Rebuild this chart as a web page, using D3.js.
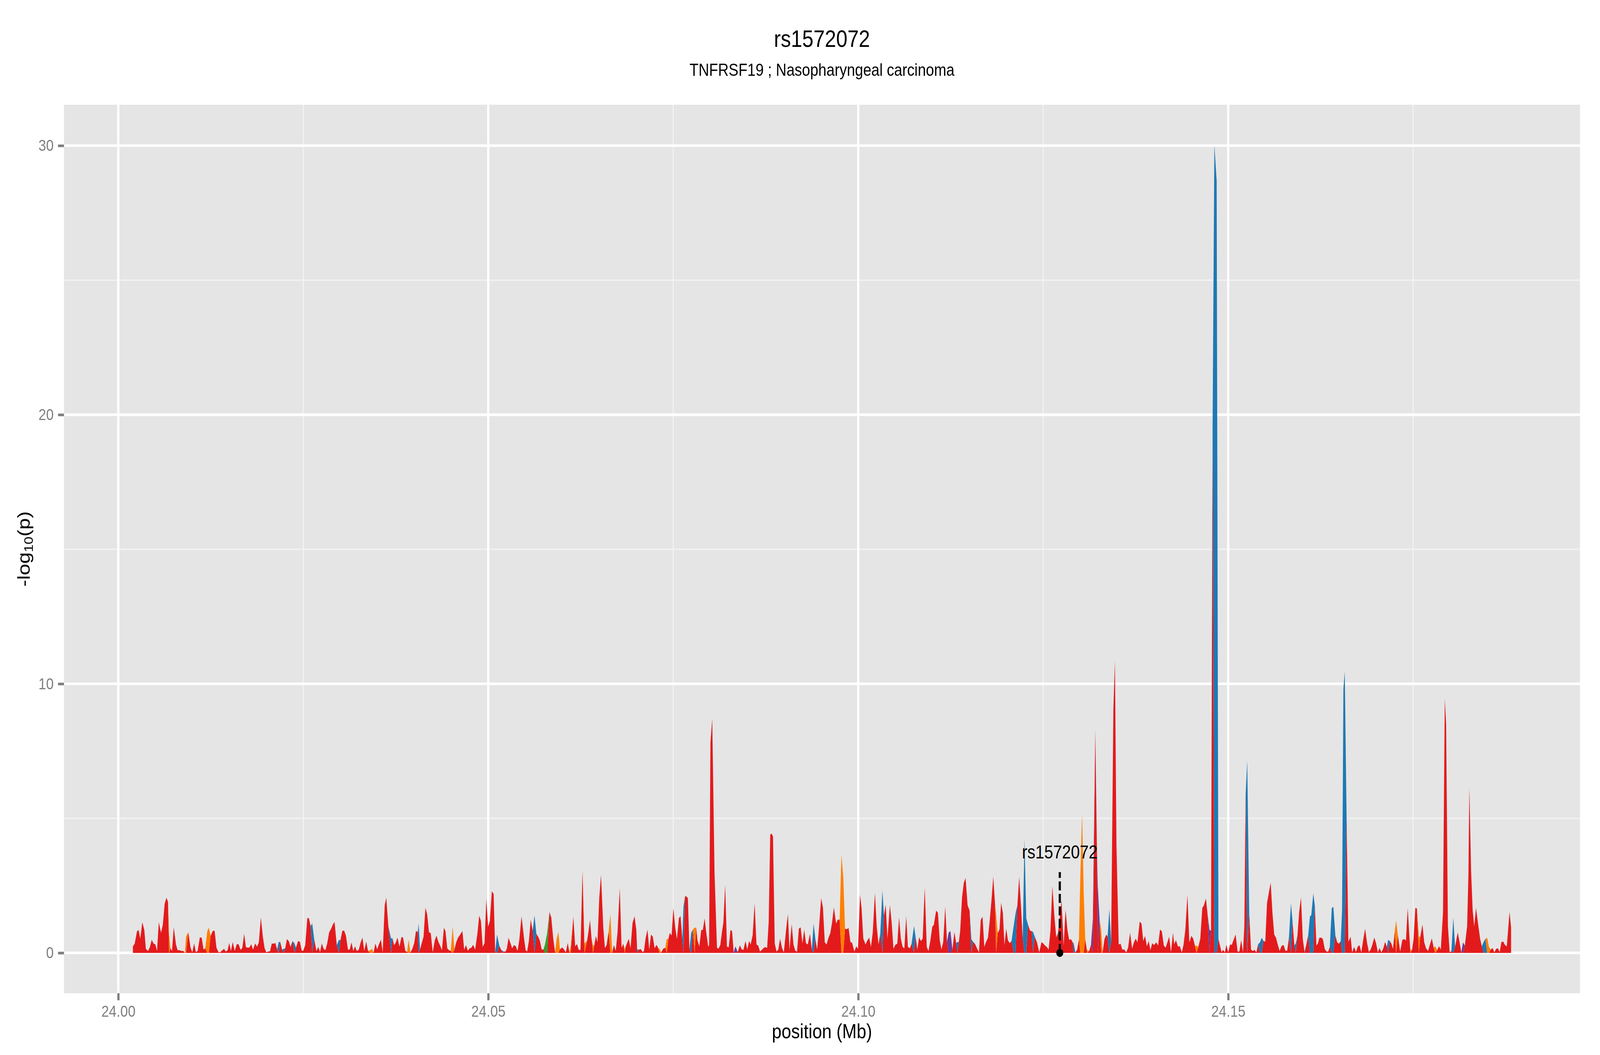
<!DOCTYPE html>
<html><head><meta charset="utf-8">
<script src="https://cdn.jsdelivr.net/npm/d3@7"></script>
<style>html,body{margin:0;padding:0;background:#fff;overflow:hidden}
#chart{position:fixed;left:0;top:0;width:100vw;height:100vh;display:block}</style>
</head><body>
<svg id="chart" viewBox="0 0 4800 2700" preserveAspectRatio="none"></svg>
<script>
// ---------------- DATA ----------------
const titleText = "rs1572072";
const subtitleText = "TNFRSF19 ; Nasopharyngeal carcinoma";
const xAxisTitle = "position (Mb)";
const xTicks = [24.00, 24.05, 24.10, 24.15];
const xTickLabels = ["24.00", "24.05", "24.10", "24.15"];
const xMinorTicks = [24.025, 24.075, 24.125, 24.175];
const yTicks = [0, 10, 20, 30];
const yTickLabels = ["0", "10", "20", "30"];
const yMinorTicks = [5, 15, 25];

// lead SNP
const leadName = "rs1572072";
const leadPos = 24.12724;
const leadLogp = 0;
const leadLineTop = 3.0;
const leadLabelY = 3.75;

// SNP positions (Mb) and -log10(p), four consecutive stretches
const posA = [24.00198,24.00222,24.00253,24.00274,24.00298,24.00325,24.00352,24.00373,24.00403,24.00428,
24.00452,24.00479,24.00500,24.00524,24.00548,24.00578,24.00602,24.00627,24.00651,24.00672,
24.00687,24.00705,24.00726,24.00750,24.00780,24.00802,24.00826,24.00856,24.00880,24.00901,
24.00916,24.00946,24.00977,24.01001,24.01025,24.01049,24.01073,24.01103,24.01128,24.01152,
24.01176,24.01203,24.01224,24.01248,24.01278,24.01302,24.01327,24.01357,24.01375,24.01399,
24.01429,24.01453,24.01478,24.01499,24.01523,24.01547,24.01574,24.01601,24.01626,24.01653,
24.01677,24.01701,24.01725,24.01749,24.01773,24.01797,24.01821,24.01851,24.01875,24.01900,
24.01927,24.01954,24.01978,24.02002,24.02026,24.02051,24.02075,24.02099,24.02123,24.02147,
24.02168,24.02189,24.02214,24.02238,24.02256,24.02280,24.02304,24.02328,24.02355,24.02380,
24.02401,24.02431,24.02455,24.02479,24.02500,24.02527,24.02555,24.02576,24.02600,24.02621,
24.02648,24.02678,24.02703,24.02727,24.02751,24.02775,24.02799,24.02823,24.02850,24.02877,
24.02901,24.02923,24.02953,24.02983,24.03004,24.03028,24.03052,24.03076,24.03104,24.03128,
24.03152,24.03176,24.03200,24.03224,24.03251,24.03276,24.03300,24.03324,24.03351,24.03375,
24.03405,24.03429,24.03451,24.03475,24.03499,24.03523,24.03550,24.03574,24.03601,24.03622,
24.03650,24.03686,24.03707,24.03728,24.03752,24.03773,24.03800,24.03828,24.03849,24.03879,
24.03903,24.03924,24.03948,24.03975,24.04000,24.04024,24.04048,24.04060,24.04078,24.04099,
24.04126,24.04151,24.04175,24.04199,24.04223,24.04250,24.04277,24.04301,24.04325,24.04350,
24.04374,24.04401,24.04422,24.04446,24.04470,24.04494,24.04519,24.04543,24.04567,24.04591,
24.04621,24.04651,24.04675,24.04700,24.04724,24.04748,24.04772,24.04796,24.04823,24.04853,
24.04878];
const logpA = [0.24,0.34,0.80,0.85,0.53,1.14,0.85,0.15,0.07,0.22,
0.48,0.34,0.32,0.07,1.14,0.75,1.04,1.82,2.05,1.90,
0.70,0.17,0.07,0.95,0.31,0.10,0.10,0.07,0.07,0.00,
0.60,0.77,0.19,0.02,0.35,0.03,0.07,0.58,0.56,0.12,
0.17,0.80,0.94,0.63,0.82,0.82,0.19,0.02,0.02,0.08,
0.15,0.05,0.10,0.37,0.07,0.40,0.07,0.32,0.32,0.11,
0.19,0.71,0.22,0.19,0.20,0.32,0.12,0.35,0.23,0.39,
1.32,0.60,0.17,0.02,0.05,0.06,0.35,0.34,0.37,0.12,
0.40,0.41,0.12,0.15,0.17,0.51,0.44,0.22,0.44,0.36,
0.19,0.44,0.41,0.08,0.08,0.29,1.29,1.29,0.99,1.10,
0.51,0.07,0.22,0.03,0.35,0.15,0.10,0.34,0.76,0.90,
1.06,1.15,0.29,0.48,0.48,0.82,0.83,0.65,0.12,0.12,
0.39,0.07,0.24,0.07,0.12,0.39,0.57,0.07,0.42,0.07,
0.10,0.15,0.02,0.35,0.13,0.32,0.49,0.02,1.77,2.05,
0.99,0.54,0.54,0.28,0.39,0.57,0.23,0.59,0.57,0.08,
0.03,0.49,0.02,0.15,0.37,0.82,0.77,1.09,0.12,0.34,
0.60,1.68,1.43,0.77,0.73,0.02,0.46,0.64,0.42,0.27,
0.10,0.93,0.81,0.17,0.10,0.07,0.98,0.12,0.39,0.56,
0.68,0.81,0.11,0.29,0.08,0.17,0.19,0.30,0.12,0.70,
1.38];

const posB = [24.04901,24.04925,24.04950,24.04974,24.04998,24.05022,24.05049,24.05073,24.05094,24.05119,
24.05149,24.05173,24.05191,24.05209,24.05233,24.05251,24.05275,24.05300,24.05324,24.05348,
24.05372,24.05396,24.05420,24.05450,24.05481,24.05505,24.05526,24.05550,24.05574,24.05601,
24.05625,24.05650,24.05674,24.05698,24.05722,24.05746,24.05767,24.05797,24.05828,24.05852,
24.05879,24.05903,24.05924,24.05948,24.05969,24.06000,24.06024,24.06048,24.06075,24.06096,
24.06114,24.06150,24.06175,24.06199,24.06223,24.06247,24.06274,24.06301,24.06337,24.06355,
24.06376,24.06395,24.06416,24.06434,24.06455,24.06476,24.06500,24.06524,24.06555,24.06576,
24.06600,24.06627,24.06651,24.06675,24.06699,24.06723,24.06747,24.06778,24.06802,24.06826,
24.06844,24.06862,24.06899,24.06923,24.06950,24.06977,24.07001,24.07013,24.07037,24.07061,
24.07086,24.07104,24.07128,24.07152,24.07176,24.07200,24.07224,24.07249,24.07273,24.07297,
24.07315,24.07339,24.07363,24.07393,24.07412,24.07436,24.07454,24.07478,24.07502,24.07526,
24.07550,24.07577,24.07599,24.07623,24.07638,24.07659,24.07677,24.07698,24.07719,24.07743,
24.07767,24.07789,24.07810,24.07828,24.07852,24.07879,24.07900,24.07924,24.07949,24.07973,
24.07985,24.08003,24.08027,24.08058,24.08091,24.08111,24.08136,24.08160,24.08178,24.08202,
24.08226,24.08250,24.08274,24.08295,24.08317,24.08341,24.08371,24.08401,24.08425,24.08449,
24.08476,24.08501,24.08525,24.08546,24.08573,24.08600,24.08625,24.08649,24.08673,24.08697,
24.08721,24.08745,24.08769,24.08790,24.08811,24.08829,24.08848,24.08872,24.08896,24.08920,
24.08944,24.08971,24.08995,24.09023,24.09050,24.09071,24.09101,24.09125,24.09149,24.09173,
24.09198,24.09222,24.09246,24.09270,24.09294,24.09318,24.09348,24.09373,24.09397,24.09421,
24.09445,24.09469,24.09499,24.09523,24.09548,24.09572];
const logpB = [1.19,0.22,0.36,2.00,0.97,1.19,2.29,2.19,0.02,0.68,
0.27,0.12,0.08,0.05,0.05,0.15,0.56,0.36,0.17,0.29,
0.25,0.07,0.48,1.36,0.60,0.10,0.05,0.46,1.23,0.82,
1.39,0.71,0.60,0.45,0.13,0.12,0.31,0.75,1.52,1.31,
0.51,0.02,0.51,0.78,0.13,0.20,0.13,0.02,0.37,0.02,
0.22,1.34,0.24,0.33,0.11,0.11,3.06,0.35,0.46,0.80,
1.22,0.56,0.27,0.29,0.63,0.39,2.03,2.90,0.94,0.18,
0.29,0.80,1.43,0.02,0.29,0.07,0.75,2.40,0.19,0.34,
0.15,0.27,0.52,0.17,1.11,1.36,0.85,0.12,0.12,0.14,
0.03,0.07,0.56,0.86,0.12,0.68,0.60,0.17,0.30,0.18,
0.15,0.02,0.15,0.19,0.51,0.53,0.74,0.65,1.66,0.97,
0.51,1.29,1.37,0.51,1.70,2.10,2.10,2.03,0.12,0.75,
0.87,0.94,0.94,0.46,0.24,0.85,0.85,1.28,0.70,0.22,
0.30,7.80,8.70,3.00,0.19,0.15,0.29,0.80,1.14,2.53,
0.23,0.21,0.85,0.81,0.02,0.24,0.03,0.28,0.13,0.11,
0.44,0.13,0.44,0.31,0.65,1.84,0.31,0.27,0.05,0.11,
0.18,0.22,0.18,1.13,4.40,4.43,4.33,0.34,0.05,0.12,
0.53,0.17,0.02,0.80,1.44,0.10,1.07,0.31,0.08,0.05,
0.90,0.95,0.35,0.86,0.36,0.31,0.71,0.12,1.09,0.51,
0.12,0.90,2.03,1.69,0.39,0.31];

const posC = [24.09598,24.09623,24.09647,24.09671,24.09701,24.09725,24.09749,24.09773,24.09798,24.09822,
24.09846,24.09870,24.09894,24.09918,24.09948,24.09973,24.09997,24.10024,24.10045,24.10069,
24.10099,24.10123,24.10148,24.10172,24.10196,24.10226,24.10250,24.10274,24.10298,24.10327,
24.10348,24.10371,24.10395,24.10428,24.10452,24.10476,24.10504,24.10528,24.10552,24.10576,
24.10600,24.10624,24.10648,24.10672,24.10697,24.10721,24.10754,24.10775,24.10799,24.10823,
24.10847,24.10871,24.10899,24.10926,24.10950,24.10974,24.11001,24.11022,24.11053,24.11077,
24.11101,24.11125,24.11149,24.11176,24.11200,24.11222,24.11246,24.11273,24.11300,24.11324,
24.11342,24.11360,24.11378,24.11403,24.11427,24.11451,24.11478,24.11505,24.11529,24.11553,
24.11577,24.11608,24.11632,24.11656,24.11680,24.11704,24.11728,24.11753,24.11777,24.11801,
24.11825,24.11849,24.11864,24.11885,24.11909,24.11931,24.11955,24.11976,24.12000,24.12024,
24.12048,24.12072,24.12103,24.12127,24.12151,24.12175,24.12199,24.12223,24.12247,24.12271,
24.12296,24.12323,24.12344,24.12362,24.12386,24.12416,24.12446,24.12477,24.12501,24.12525,
24.12549,24.12573,24.12597,24.12624,24.12652,24.12676,24.12700,24.12748,24.12776,24.12802,
24.12827,24.12851,24.12875,24.12899,24.12911,24.12935,24.12959,24.12983,24.13001,24.13025,
24.13047,24.13068,24.13093,24.13122,24.13146,24.13171,24.13204,24.13225,24.13237,24.13261,
24.13285,24.13303,24.13328,24.13352,24.13370,24.13394,24.13418,24.13448,24.13469,24.13490,
24.13520,24.13545,24.13569,24.13593,24.13623,24.13647,24.13674,24.13702,24.13726,24.13750,
24.13774,24.13804,24.13828,24.13852,24.13877,24.13901,24.13925,24.13949,24.13973,24.13997,
24.14027,24.14052,24.14079,24.14103,24.14130,24.14154,24.14178,24.14202,24.14227,24.14254];
const logpC = [0.56,0.73,1.14,1.69,1.09,1.24,1.23,3.65,2.80,0.90,
0.88,0.92,0.41,0.37,0.05,0.24,0.15,2.16,1.67,0.53,
0.31,0.46,0.57,0.22,0.75,2.23,0.99,0.31,0.70,2.32,
1.38,1.79,0.53,1.77,1.14,0.15,0.31,0.34,1.32,0.53,
0.22,0.17,1.36,0.22,0.17,0.34,1.00,0.60,0.12,0.58,
0.44,0.53,2.43,0.22,0.07,0.44,0.97,1.04,1.57,1.49,
0.48,0.12,0.41,1.72,0.41,0.75,0.81,0.12,0.77,0.36,
0.40,0.41,0.82,2.06,2.61,2.78,1.77,1.57,0.51,0.41,
0.34,0.15,0.02,1.23,1.34,0.22,0.41,0.56,1.19,1.96,
2.83,1.81,1.43,0.73,0.87,1.86,1.48,0.29,0.90,0.46,
0.36,0.44,1.04,1.48,1.77,2.82,1.77,0.51,4.24,1.28,
1.04,0.82,0.81,0.78,0.60,0.39,0.02,0.40,0.35,0.27,
0.22,0.12,0.80,2.48,1.33,0.58,0.73,1.96,0.27,1.60,
0.85,0.48,0.51,0.39,0.36,0.02,0.12,0.51,2.74,5.20,
2.25,0.51,0.10,0.07,0.31,1.28,8.30,4.00,2.50,1.28,
0.80,0.02,0.51,0.68,0.60,1.62,0.41,9.00,10.87,4.00,
0.31,0.34,0.12,0.13,0.02,0.19,0.75,0.15,0.39,0.53,
0.39,1.16,1.09,0.44,0.63,0.24,0.44,0.10,0.36,0.29,
0.39,0.27,0.87,0.80,0.27,0.19,0.39,0.60,0.02,0.75];

const posD = [24.14270,24.14294,24.14322,24.14346,24.14373,24.14397,24.14421,24.14449,24.14475,24.14503,
24.14527,24.14551,24.14572,24.14596,24.14623,24.14650,24.14672,24.14699,24.14723,24.14747,
24.14768,24.14789,24.14813,24.14844,24.14868,24.14910,24.14931,24.14955,24.14976,24.15000,
24.15025,24.15049,24.15076,24.15100,24.15127,24.15151,24.15175,24.15200,24.15218,24.15236,
24.15257,24.15284,24.15308,24.15332,24.15356,24.15381,24.15405,24.15429,24.15453,24.15477,
24.15501,24.15525,24.15549,24.15574,24.15598,24.15622,24.15646,24.15670,24.15694,24.15725,
24.15749,24.15773,24.15797,24.15821,24.15848,24.15869,24.15894,24.15915,24.15936,24.15960,
24.15984,24.16008,24.16032,24.16056,24.16081,24.16105,24.16123,24.16150,24.16171,24.16192,
24.16214,24.16232,24.16256,24.16280,24.16304,24.16328,24.16352,24.16373,24.16400,24.16421,
24.16448,24.16473,24.16497,24.16521,24.16539,24.16557,24.16575,24.16600,24.16624,24.16654,
24.16675,24.16702,24.16726,24.16750,24.16774,24.16799,24.16823,24.16850,24.16877,24.16901,
24.16925,24.16949,24.16974,24.16998,24.17022,24.17046,24.17070,24.17094,24.17121,24.17145,
24.17161,24.17185,24.17206,24.17227,24.17251,24.17269,24.17293,24.17324,24.17354,24.17378,
24.17402,24.17426,24.17450,24.17462,24.17486,24.17505,24.17529,24.17550,24.17577,24.17595,
24.17625,24.17649,24.17674,24.17701,24.17725,24.17752,24.17777,24.17798,24.17825,24.17849,
24.17873,24.17903,24.17927,24.17945,24.17969,24.17993,24.18017,24.18042,24.18066,24.18102,
24.18126,24.18150,24.18174,24.18198,24.18229,24.18247,24.18259,24.18283,24.18304,24.18325,
24.18349,24.18379,24.18404,24.18428,24.18452,24.18476,24.18500,24.18524,24.18548,24.18573,
24.18597,24.18621,24.18645,24.18669,24.18693,24.18717,24.18741,24.18765,24.18802,24.18823];
const logpD = [0.32,0.47,0.23,0.25,0.02,0.31,0.87,2.15,0.39,0.63,
0.53,0.26,0.27,0.22,0.53,1.67,1.77,2.02,1.38,0.86,
0.82,19.50,30.02,28.70,0.51,0.03,0.11,0.02,0.30,0.02,
0.31,0.30,0.51,0.68,0.05,0.05,0.47,0.02,1.00,5.90,
7.15,1.50,0.12,0.07,0.11,0.02,0.32,0.39,0.56,0.44,
0.42,1.86,2.23,2.61,1.48,0.68,0.56,0.31,0.07,0.27,
0.29,0.08,0.08,0.56,1.84,1.18,0.27,0.36,0.65,1.55,
2.06,0.51,0.05,0.31,0.65,1.36,1.40,2.21,1.74,0.27,
0.36,0.56,0.57,0.51,0.15,0.05,0.05,0.22,1.67,1.71,
0.65,0.39,0.34,0.44,1.60,9.80,10.45,5.00,0.41,0.60,
0.02,0.22,0.03,0.23,0.29,0.02,0.46,0.90,0.36,0.03,
0.12,0.31,0.57,0.36,0.02,0.18,0.02,0.15,0.41,0.22,
0.48,0.44,0.34,0.15,0.80,1.20,0.65,0.05,0.49,0.51,
0.46,1.66,0.56,0.10,0.12,0.51,1.67,1.65,0.61,0.58,
1.05,0.39,0.17,0.07,0.30,0.54,0.19,0.25,0.10,0.25,
0.12,1.50,9.45,8.50,1.00,0.02,0.07,1.31,0.22,0.76,
0.41,0.02,0.39,0.27,0.99,3.00,6.15,3.00,1.57,0.99,
1.67,1.04,0.53,0.24,0.41,0.52,0.56,0.22,0.12,0.18,
0.02,0.15,0.17,0.03,0.41,0.42,0.29,0.24,1.52,0.94];

// LD bins: every SNP is "red" unless listed below
const ldKeys = ["red", "blue", "orange", "green", "purple"];
const ldColors = {red:"#E31A1C", blue:"#1F78B4", orange:"#FF7F00", green:"#33A02C", purple:"#6A3D9A"};
const bluePos = [24.02168,24.02238,24.02380,24.02621,24.02983,24.03686,24.04060,
24.05119,24.05191,24.05625,24.07013,24.07638,24.07743,24.09397,
24.10327,24.10754,24.11342,24.11529,24.12103,24.12127,24.12247,24.12271,24.12362,24.12911,24.13394,
24.14813,24.14844,24.15257,24.15429,24.15453,24.15848,24.15915,24.16032,24.16105,24.16123,24.16150,
24.16400,24.16421,24.16539,24.16557,24.16575,24.17161,24.18042,24.18452,24.18476];
const orangePos = [24.00687,24.00916,24.01203,24.01224,24.03405,24.03429,24.03924,24.04519,
24.05924,24.05948,24.06114,24.06301,24.06416,24.06651,24.06844,24.07315,24.07412,24.07789,
24.09773,24.09798,24.11864,24.13001,24.13025,24.13047,24.13093,24.13285,
24.14572,24.17269,24.17462,24.17577,24.17798,24.18500,24.18524];
const greenPos = [24.05767,24.05797];
const purplePos = [24.08341,24.11222,24.11246,24.13171,24.13237,24.14747,24.18174];

// ---------------- CHART ----------------
const FONT = "'Liberation Sans', Arial, Helvetica, sans-serif";
const W = 4800, H = 2700;
const P = {left:192, right:4740, top:268, bottom:2542};

function joinSeg(p, v){ const n=Math.min(p.length, v.length); return d3.range(n).map(i=>({pos:p[i], v:v[i]})); }
const snps = [].concat(joinSeg(posA,logpA), joinSeg(posB,logpB), joinSeg(posC,logpC), joinSeg(posD,logpD))
  .sort((a,b)=>a.pos-b.pos);
const key = p => Math.round(p*1e5);
const binSets = {blue:new Set(bluePos.map(key)), orange:new Set(orangePos.map(key)),
                 green:new Set(greenPos.map(key)), purple:new Set(purplePos.map(key))};
snps.forEach(d=>{
  d.cat = "red";
  for (const k of ["blue","orange","green","purple"]) if (binSets[k].has(key(d.pos))) d.cat = k;
});

const xExt = d3.extent(snps, d=>d.pos);
const xPad = (xExt[1]-xExt[0])*0.05;
const x = d3.scaleLinear().domain([xExt[0]-xPad, xExt[1]+xPad]).range([P.left, P.right]);
const yMax = d3.max(snps, d=>d.v);
const yPad = yMax*0.05;
const y = d3.scaleLinear().domain([0-yPad, yMax+yPad]).range([P.bottom, P.top]);

const svg = d3.select("#chart");
svg.append("rect").attr("width",W).attr("height",H).attr("fill","#fff");
svg.append("rect").attr("x",P.left).attr("y",P.top).attr("width",P.right-P.left).attr("height",P.bottom-P.top).attr("fill","#E5E5E5");

const grid = svg.append("g");
grid.selectAll("line.hmin").data(yMinorTicks).join("line")
  .attr("x1",P.left).attr("x2",P.right).attr("y1",d=>y(d)).attr("y2",d=>y(d))
  .attr("stroke","#F2F2F2").attr("stroke-width",3.4);
grid.selectAll("line.vmin").data(xMinorTicks).join("line")
  .attr("y1",P.top).attr("y2",P.bottom).attr("x1",d=>x(d)).attr("x2",d=>x(d))
  .attr("stroke","#F2F2F2").attr("stroke-width",3.4);
grid.selectAll("line.hmaj").data(yTicks).join("line")
  .attr("x1",P.left).attr("x2",P.right).attr("y1",d=>y(d)).attr("y2",d=>y(d))
  .attr("stroke","#FFFFFF").attr("stroke-width",6.7);
grid.selectAll("line.vmaj").data(xTicks).join("line")
  .attr("y1",P.top).attr("y2",P.bottom).attr("x1",d=>x(d)).attr("x2",d=>x(d))
  .attr("stroke","#FFFFFF").attr("stroke-width",6.7);

// stacked areas by LD bin
const stack = d3.stack().keys(ldKeys).value((d,k)=> d.cat===k ? d.v : 0);
const layers = stack(snps);
const areaG = svg.append("g");
layers.forEach(layer=>{
  const k = layer.key;
  const area = d3.area()
    .defined((d,i)=> snps[i].cat===k || (i>0 && snps[i-1].cat===k) || (i<snps.length-1 && snps[i+1].cat===k))
    .x(d=>x(d.data.pos)).y0(d=>y(d[0])).y1(d=>y(d[1]));
  areaG.append("path").attr("d", area(layer)).attr("fill", ldColors[k]);
});

// lead SNP marker
svg.append("line").attr("x1",x(leadPos)).attr("x2",x(leadPos))
  .attr("y1",y(leadLogp)).attr("y2",y(leadLineTop))
  .attr("stroke","#000").attr("stroke-width",6.5).attr("stroke-dasharray","23,9");
svg.append("circle").attr("cx",x(leadPos)).attr("cy",y(leadLogp)).attr("r",10.5).attr("fill","#000");
svg.append("text").attr("x",x(leadPos)).attr("y",y(leadLabelY)).attr("dy","0.35em")
  .attr("text-anchor","middle").attr("font-family",FONT).attr("font-size",48).attr("fill","#000")
  .text(leadName);

// axes
const xAxis = d3.axisBottom(x).tickValues(xTicks).tickFormat((d,i)=>xTickLabels[i]).tickSize(18).tickPadding(13);
const gx = svg.append("g").attr("transform",`translate(0,${P.bottom})`).call(xAxis);
gx.select(".domain").remove();
gx.attr("font-family",FONT).attr("font-size",41);
gx.selectAll(".tick line").attr("stroke","#7F7F7F").attr("stroke-width",6.7);
gx.selectAll(".tick text").attr("fill","#7F7F7F");

const yAxis = d3.axisLeft(y).tickValues(yTicks).tickFormat((d,i)=>yTickLabels[i]).tickSize(18).tickPadding(13);
const gy = svg.append("g").attr("transform",`translate(${P.left},0)`).call(yAxis);
gy.select(".domain").remove();
gy.attr("font-family",FONT).attr("font-size",41);
gy.selectAll(".tick line").attr("stroke","#7F7F7F").attr("stroke-width",6.7);
gy.selectAll(".tick text").attr("fill","#7F7F7F");

// titles
const cx = (P.left+P.right)/2;
svg.append("text").attr("x",cx).attr("y",120).attr("text-anchor","middle")
  .attr("font-family",FONT).attr("font-size",61).attr("fill","#000").text(titleText);
svg.append("text").attr("x",cx).attr("y",194).attr("text-anchor","middle")
  .attr("font-family",FONT).attr("font-size",44).attr("fill","#000").text(subtitleText);
svg.append("text").attr("x",cx).attr("y",2657).attr("text-anchor","middle")
  .attr("font-family",FONT).attr("font-size",52).attr("fill","#000").text(xAxisTitle);

const yt = svg.append("text").attr("transform",`translate(89,${(P.top+P.bottom)/2}) rotate(-90)`)
  .attr("text-anchor","middle").attr("font-family",FONT).attr("font-size",53).attr("fill","#000");
yt.append("tspan").text("-log");
yt.append("tspan").attr("font-size",36).attr("dy",10).text("10");
yt.append("tspan").attr("dy",-10).text("(p)");
</script>
</body></html>
